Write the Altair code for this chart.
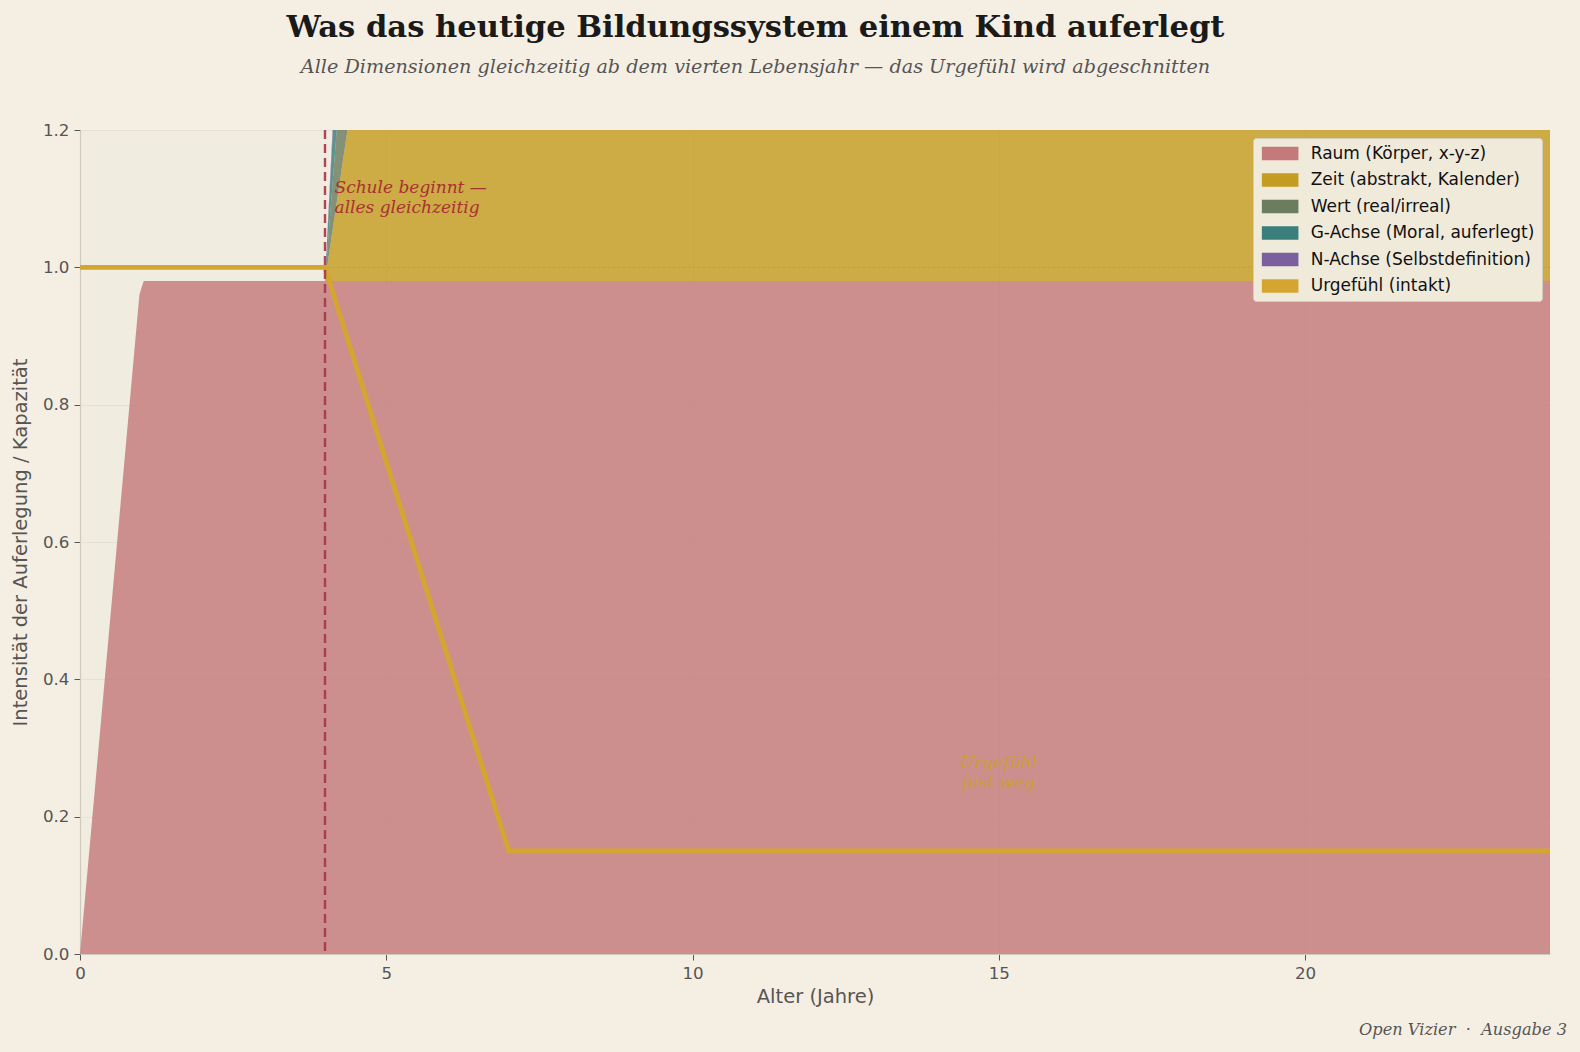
import altair as alt
import pandas as pd

# ---- data ----
ages = [0, 0.97, 1.04, 4.0, 4.2, 4.4, 5.0, 24]
raum = [0, 0.96, 0.98, 0.98, 0.98, 0.98, 0.98, 0.98]
zeit = [0, 0, 0, 0, 0.12, 0.24, 0.9, 0.9]
wert = [0, 0, 0, 0, 0.11, 0.5, 0.9, 0.9]
gachse = [0, 0, 0, 0, 0.11, 0.5, 0.9, 0.9]
nachse = [0, 0, 0, 0, 0.02, 0.5, 0.9, 0.9]

urg_ages = [0, 4, 7, 24]
urg_vals = [1.0, 1.0, 0.15, 0.15]

names = ["Raum (Körper, x-y-z)", "Zeit (abstrakt, Kalender)", "Wert (real/irreal)",
         "G-Achse (Moral, auferlegt)", "N-Achse (Selbstdefinition)", "Urgefühl (intakt)"]
colors = ["#c47a7a", "#c49c22", "#6b7d5e", "#3a7f7c", "#7b60a0", "#d4a530"]

x_ticks = [0, 5, 10, 15, 20]
y_ticks = [0.0, 0.2, 0.4, 0.6, 0.8, 1.0, 1.2]

school_age = 4

rows = []
for k, series in enumerate([raum, zeit, wert, gachse, nachse]):
    for a, v in zip(ages, series):
        rows.append({"age": a, "val": v, "serie": names[k], "ord": k})
df = pd.DataFrame(rows)
df_urg = pd.DataFrame({"age": urg_ages, "val": urg_vals})

W, H = 1470, 824
xscale = alt.Scale(domain=[0, 24], nice=False)
yscale = alt.Scale(domain=[0, 1.2], nice=False)
ytitle = "Intensität der Auferlegung / Kapazität"

xaxis = alt.Axis(values=x_ticks, title="Alter (Jahre)", grid=True, labelFlush=False)
yaxis = alt.Axis(values=y_ticks, format=".1f", title=ytitle, grid=True, labelFlush=False)

areas = alt.Chart(df).mark_area(clip=True, opacity=0.82, interpolate="linear").encode(
    x=alt.X("age:Q", scale=xscale, axis=xaxis),
    y=alt.Y("val:Q", stack="zero", scale=yscale, axis=yaxis),
    color=alt.Color("serie:N", scale=alt.Scale(domain=names, range=colors),
                    legend=alt.Legend(
                        title=None, orient="none", legendX=1173, legendY=8,
                        symbolType="M-1,-1H4.5V1H-1Z", symbolSize=177,
                        symbolOpacity=1, symbolStrokeWidth=0,
                        labelFont="DejaVu Sans", labelFontSize=17, labelColor="#111111",
                        labelOffset=33.7, rowPadding=8.5,
                        fillColor="#f0eadb", strokeColor="#d3cdbf", padding=7,
                        cornerRadius=3, labelLimit=400)),
    order=alt.Order("ord:Q", sort="ascending"),
)

capline = alt.Chart(pd.DataFrame({"y": [1.0]})).mark_rule(
    color="#b8962a", opacity=0.45, strokeDash=[2, 3], strokeWidth=1
).encode(y=alt.Y("y:Q", scale=yscale, axis=yaxis))

urg = alt.Chart(df_urg).mark_line(color="#d4a52f", strokeWidth=4.8, clip=True).encode(
    x=alt.X("age:Q", scale=xscale, axis=xaxis),
    y=alt.Y("val:Q", scale=yscale, axis=yaxis),
)

vline = alt.Chart(pd.DataFrame({"x": [school_age]})).mark_rule(
    color="#a8334a", opacity=0.9, strokeDash=[9, 5], strokeWidth=2.4
).encode(x=alt.X("x:Q", scale=xscale, axis=xaxis))

ann1 = alt.Chart(pd.DataFrame({"x": [4.155], "y": [1.116], "t": ["Schule beginnt —\nalles gleichzeitig"]})).mark_text(
    align="left", baseline="middle", font="DejaVu Serif", fontStyle="italic", fontSize=17,
    color="#a83232", lineBreak="\n", lineHeight=20
).encode(x=alt.X("x:Q", scale=xscale, axis=xaxis), y=alt.Y("y:Q", scale=yscale, axis=yaxis), text="t:N")

ann2 = alt.Chart(pd.DataFrame({"x": [15.0], "y": [0.2776], "t": ["Urgefühl\nfast weg"]})).mark_text(
    align="center", baseline="middle", font="DejaVu Serif", fontStyle="italic", fontSize=17,
    color="#c9a030", lineBreak="\n", lineHeight=20
).encode(x=alt.X("x:Q", scale=xscale, axis=xaxis), y=alt.Y("y:Q", scale=yscale, axis=yaxis), text="t:N")

footer = alt.Chart(pd.DataFrame({"t": ["Open Vizier\u00a0\u00a0·\u00a0\u00a0Ausgabe 3"]})).mark_text(
    align="right", baseline="alphabetic", font="DejaVu Serif", fontStyle="italic", fontSize=16.2,
    color="#555555"
).encode(x=alt.value(1567 - 80), y=alt.value(1035 - 130), text="t:N")

chart = alt.layer(areas, capline, urg, vline, ann1, ann2, footer).properties(
    width=W, height=H,
    autosize=alt.AutoSizeParams(type="none"),
    padding={"left": 80, "top": 130, "right": 30, "bottom": 98},
    background="#f5efe3",
    title=alt.TitleParams(
        text="Was das heutige Bildungssystem einem Kind auferlegt",
        subtitle="Alle Dimensionen gleichzeitig ab dem vierten Lebensjahr — das Urgefühl wird abgeschnitten",
        anchor="middle", frame="group", dx=-59.5, offset=45,
        font="DejaVu Serif", fontSize=30.6, fontWeight="bold", color="#1a1a1a",
        subtitleFont="DejaVu Serif", subtitleFontSize=19.2, subtitleFontStyle="italic",
        subtitleColor="#555555", subtitlePadding=14,
    ),
).configure_view(fill="#f0ece0", stroke=None).configure_axis(
    labelFont="DejaVu Sans", labelFontSize=16.7, labelColor="#555555",
    titleFont="DejaVu Sans", titleFontSize=19.5, titleColor="#555555", titleFontWeight="normal",
    gridColor="#e2ddd0", gridWidth=0.8, domainColor="#cfc9bd", domainWidth=1.2,
    tickColor="#555555", tickSize=6, tickWidth=1, labelPadding=5,
).configure_axisX(titlePadding=6).configure_axisY(titlePadding=12)

chart.save("out.html", embed_options={"renderer": "svg", "actions": False})
